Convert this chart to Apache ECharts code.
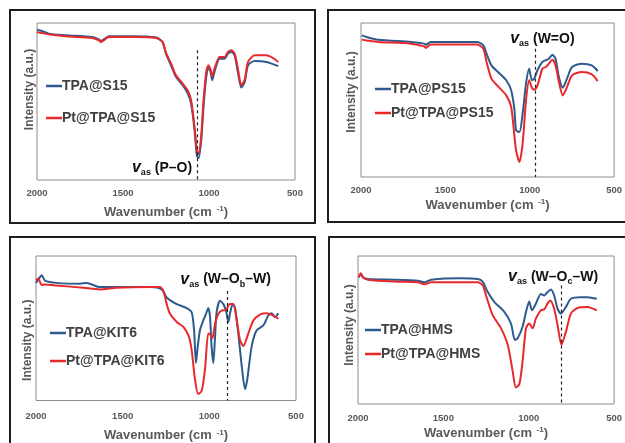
<!DOCTYPE html>
<html><head><meta charset="utf-8">
<script src="https://cdn.jsdelivr.net/npm/echarts@6/dist/echarts.min.js"></script>
<style>html,body{margin:0;padding:0;background:#fff}#c{width:625px;height:443px}</style>
</head><body><div id="c"></div>
<script>
// ---- Data (wavenumber in cm-1, intensity in a.u. normalised 0-100) ----
const s15BlueX = [2000,1971,1932,1834,1679,1640,1630,1581,1445,1308,1270,1250,1221,1192,1153,1123,1104,1084,1071,1061,1045,1032,1016,1003,991,981,968,938,909,890,870,851,831,812,792,773,734,666,597];
const s15BlueY = [95.8,94.9,93.2,92.2,91.1,89.6,88.6,91.5,91.5,90.7,87.9,80.5,73.1,65.7,60.4,55.1,48.7,31.8,15.9,13.8,25.4,46.6,65.7,72,68.9,63.6,68.9,77.3,77.3,80.5,81.6,79.4,67.8,58.9,62.5,73.1,75.8,75.2,72.5];
const s15RedX  = s15BlueX;
const s15RedY  = [94.3,93.6,92.8,91.5,90.5,89,87.9,91.1,91.1,90.5,87.9,80.9,74.2,66.7,61.4,56.8,50.8,33.9,19.1,16.5,28.6,50.8,68.9,73.1,70.3,66.1,70.9,78.4,78.4,81.6,82.6,80.5,70.3,60.4,64,75.2,79.4,79.4,75.2];

const ps15X     = [1996,1967,1899,1704,1626,1616,1587,1314,1275,1256,1227,1188,1139,1110,1090,1081,1061,1042,1022,1003,987,973,954,925,905,886,866,847,827,804,779,749,691,632,597];
const ps15BlueY = [92,90.9,89.2,87.7,86.6,85.9,87.7,87.7,85.5,80.1,72.5,68.2,62.8,56.3,43.3,30.3,29.2,41.1,60.6,70.3,62.8,63.9,69.3,74.7,75.8,76.8,79.4,76.8,64.9,58,63.9,71.4,73.6,72.5,68.8];
const ps15RedY  = [89.2,88.7,87.7,86.6,84.8,83.8,86.1,86.1,83.3,74.7,63.9,58.9,53,45.5,26,17.3,9.7,21.6,49.8,62.8,58,56.7,59.5,70.3,71.4,73.6,76.2,72.5,61.7,53,58.4,66,68.2,66.7,62.3];

const kit6BlueX = [2000,1987,1967,1948,1881,1746,1708,1631,1535,1342,1275,1246,1188,1131,1102,1088,1077,1067,1054,1035,1019,1006,996,987,977,967,958,938,919,904,890,881,865,852,833,813,794,781,756,727,688,660,640,621,602];
const kit6BlueY = [81.4,83.7,86.7,83,81.4,80.8,81.4,78.5,78.5,78.5,76.9,71.3,66.7,64,61.1,48.6,26,37.3,48.6,55.4,60,64,57.7,37.3,26,44.1,61.1,69,66.7,62.2,54.3,60,66.7,64.5,46.4,23.8,7.9,14.7,37.3,48.6,52,58.8,60.4,57.7,60.4];
const kit6RedX  = [2000,1987,1967,1948,1881,1727,1631,1535,1342,1285,1265,1246,1227,1188,1150,1121,1102,1083,1064,1044,1025,1006,992,983,967,948,929,904,881,862,842,823,804,775,746,708,669,631,602];
const kit6RedY  = [83,84.4,79.9,80.3,79.6,78,76.9,78,78.5,78.5,75.8,66.7,60,54.3,50.9,45.2,35.1,14.7,4.5,6.8,21.5,46.4,45.2,43,53.2,60,62.2,62.7,66.7,66.7,55.4,41.9,37.8,46.4,55.4,59.5,60.4,58.8,56.6];

const hmsBlueX = [1996,1984,1971,1942,1786,1649,1610,1571,1396,1299,1270,1240,1201,1143,1104,1081,1065,1036,1016,997,981,958,929,909,890,870,851,831,812,782,753,695,656,601];
const hmsBlueY = [85.6,87.8,85.6,84.4,84,83.3,82.2,84,84.9,84.4,82.7,75.6,68.9,62.2,54.4,43.3,44.4,52.2,62.2,69.3,63.3,67.8,74.4,73.3,75.6,77.3,73.3,64.4,61.1,65.6,71.1,72.2,72.2,71.1];
const hmsRedX  = [1996,1984,1971,1942,1786,1649,1610,1571,1396,1299,1270,1250,1211,1162,1123,1094,1075,1055,1036,1016,997,977,958,929,909,890,874,851,831,808,782,753,714,656,601];
const hmsRedY  = [85.6,88.4,85.6,84,82.7,82.2,80.9,82.2,82.2,82.2,80.4,73.3,60,51.1,40,22.2,11.1,13.3,28.9,51.1,54.4,51.1,57.8,63.3,64,67.8,70,64.4,53.3,40,48.9,61.1,64.9,65.6,63.3];

const xTicks = [2000,1500,1000,500];
const panelNames = [['TPA@S15','Pt@TPA@S15'],['TPA@PS15','Pt@TPA@PS15'],['TPA@KIT6','Pt@TPA@KIT6'],['TPA@HMS','Pt@TPA@HMS']];
// annotation: dashed line wavenumber, its top value, label centre
const markWn  = [1071, 969, 896, 808];
const markTop = [82.6, 83.3, 75.8, 80];
const labelPos = [[1273, 7.6],[925, 89.8],[906, 83.7],[857, 86]];
const labelText = [
  '{v|v}{s|as}{t| (P–O)}',
  '{v|v}{s|as}{t| (W=O)}',
  '{v|v}{s|as}{t| (W–O}{s|b}{t|–W)}',
  '{v|v}{s|as}{t| (W–O}{s|c}{t|–W)}'
];
// ----------------------------------------------------------------------

const BLUE = '#2e5b8e', RED = '#e8292b', TXT = '#595959';
const FONT = 'Liberation Sans, Arial, sans-serif';
const zip = (xs, ys) => xs.map((x, i) => [x, ys[i]]);
const seriesData = [
  [zip(s15BlueX, s15BlueY), zip(s15RedX, s15RedY)],
  [zip(ps15X, ps15BlueY), zip(ps15X, ps15RedY)],
  [zip(kit6BlueX, kit6BlueY), zip(kit6RedX, kit6RedY)],
  [zip(hmsBlueX, hmsBlueY), zip(hmsRedX, hmsRedY)]
];

const grids = [
  {left: 37, top: 23, width: 258, height: 157},
  {left: 361, top: 23, width: 257, height: 154},
  {left: 36, top: 256, width: 260, height: 147},
  {left: 358, top: 256, width: 257, height: 148}
];
const labelMargin = [8, 8, 11, 9];
const xNameGap = [25, 21, 28, 22];
const yNameGap = [1, 3, 2, 2];
const yNamePad = [[0,0,0,24],[0,0,0,16],[0,24,0,0],[0,0,0,10]];
const legendPos = [
  {left: 41, top: 73, itemGap: 16},
  {left: 370, top: 76, itemGap: 8},
  {left: 45, top: 320, itemGap: 12},
  {left: 360, top: 317, itemGap: 8}
];

const option = {
  animation: false,
  backgroundColor: '#fff',
  textStyle: {fontFamily: FONT},
  grid: grids.map(g => Object.assign({show: true, borderColor: '#8c8c8c', borderWidth: 1, backgroundColor: 'transparent'}, g)),
  xAxis: grids.map((g, i) => ({
    gridIndex: i, type: 'value', inverse: true, min: 500, max: 2000, interval: 500,
    axisLine: {show: false}, axisTick: {show: false}, splitLine: {show: false},
    axisLabel: {margin: labelMargin[i], fontSize: 9.5, fontWeight: 'bold', color: TXT, fontFamily: FONT,
      formatter: v => xTicks.includes(v) ? String(v) : ''},
    name: '{n|Wavenumber (cm }{sup|-1}{n|)}', nameLocation: 'middle', nameGap: xNameGap[i],
    nameTextStyle: {rich: {
      n: {fontSize: 13, fontWeight: 'bold', color: TXT, fontFamily: FONT},
      sup: {fontSize: 8, fontWeight: 'bold', color: TXT, fontFamily: FONT, verticalAlign: 'top', padding: [0, 0, 6, 1]}
    }}
  })),
  yAxis: grids.map((g, i) => ({
    gridIndex: i, type: 'value', min: 0, max: 100,
    axisLine: {show: false}, axisTick: {show: false}, splitLine: {show: false}, axisLabel: {show: false},
    name: 'Intensity (a.u.)', nameLocation: 'middle', nameGap: yNameGap[i],
    nameTextStyle: {fontSize: 12, fontWeight: 'bold', color: TXT, fontFamily: FONT, padding: yNamePad[i]}
  })),
  legend: panelNames.map((names, i) => Object.assign({
    orient: 'vertical', data: names, icon: 'rect', itemWidth: 16, itemHeight: 2.5,
    selectedMode: false,
    textStyle: {fontSize: 14, fontWeight: 'bold', color: '#404040', fontFamily: FONT, lineHeight: 16, padding: [0,0,0,-5]}
  }, legendPos[i])),
  graphic: [
    {type: 'rect', shape: {x: 10, y: 10, width: 305, height: 213}, style: {fill: 'none', stroke: '#1e1e1e', lineWidth: 2}, silent: true},
    {type: 'rect', shape: {x: 328, y: 10, width: 310, height: 212}, style: {fill: 'none', stroke: '#1e1e1e', lineWidth: 2}, silent: true},
    {type: 'rect', shape: {x: 10, y: 237, width: 305, height: 220}, style: {fill: 'none', stroke: '#1e1e1e', lineWidth: 2}, silent: true},
    {type: 'rect', shape: {x: 329, y: 237, width: 310, height: 220}, style: {fill: 'none', stroke: '#1e1e1e', lineWidth: 2}, silent: true}
  ],
  series: []
};

seriesData.forEach((pair, i) => {
  option.series.push({
    name: panelNames[i][0], type: 'line', xAxisIndex: i, yAxisIndex: i,
    data: pair[0], showSymbol: false, smooth: 0.25, color: BLUE,
    lineStyle: {width: 2, color: BLUE}
  });
  option.series.push({
    name: panelNames[i][1], type: 'line', xAxisIndex: i, yAxisIndex: i,
    data: pair[1], showSymbol: false, smooth: 0.25, color: RED,
    lineStyle: {width: 2, color: RED},
    markLine: {
      silent: true, symbol: ['none', 'none'],
      lineStyle: {type: [3, 3], color: '#222', width: 1.2},
      label: {show: false},
      data: [[{coord: [markWn[i], markTop[i]]}, {coord: [markWn[i], 0]}]]
    },
    markPoint: {
      silent: true, symbol: 'circle', symbolSize: 1, itemStyle: {color: 'rgba(0,0,0,0)'},
      data: [{coord: labelPos[i]}],
      label: {
        show: true, position: 'inside', formatter: labelText[i],
        rich: {
          v: {fontSize: 16, fontStyle: 'italic', fontWeight: 'bold', color: '#111', fontFamily: FONT, lineHeight: 18},
          s: {fontSize: 9, fontWeight: 'bold', color: '#111', fontFamily: FONT, verticalAlign: 'bottom', lineHeight: 18},
          t: {fontSize: 14, fontWeight: 'bold', color: '#111', fontFamily: FONT, lineHeight: 18}
        }
      }
    }
  });
});

const chart = echarts.init(document.getElementById('c'), null, {renderer: 'canvas'});
chart.setOption(option);
</script></body></html>
